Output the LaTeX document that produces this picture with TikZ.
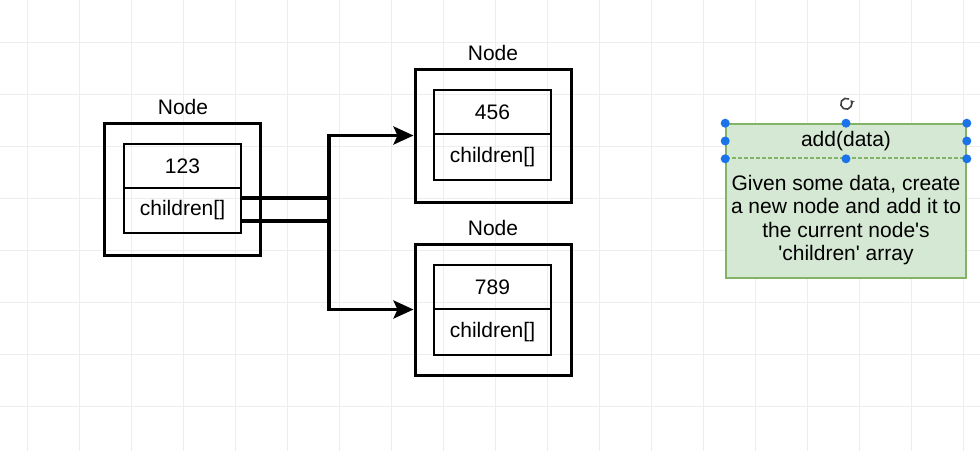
\documentclass[tikz,border=0pt]{standalone}
\usepackage{fontspec}
\setmainfont{Liberation Sans}
\usetikzlibrary{arrows.meta}
\definecolor{gridc}{HTML}{EDEDED}
\definecolor{greenfill}{HTML}{D5E8D4}
\definecolor{greenline}{HTML}{82B366}
\definecolor{handle}{HTML}{1A73E8}
\tikzset{
  outerbox/.style={draw=black, line width=3pt, minimum width=156pt, minimum height=132pt, inner sep=0pt},
  cellbox/.style={draw=black, line width=2.4pt, minimum width=117pt, minimum height=44.5pt, inner sep=0pt, font=\fontsize{21}{25}\selectfont},
  nodelabel/.style={font=\fontsize{21}{25}\selectfont},
  link/.style={line width=3.6pt, -{Stealth[length=20pt,width=18pt,inset=4pt]}},
  greenbox/.style={draw=greenline, line width=2.4pt, fill=greenfill, inner sep=0pt},
  hdot/.style={circle, fill=handle, inner sep=0pt, minimum size=9pt}
}
\begin{document}
\begin{tikzpicture}[x=1pt,y=-1pt]
\useasboundingbox (0,0) rectangle (980,451);
\fill[white] (0,0) rectangle (980,451);
% grid
\foreach \gx in {27,79,...,980} \draw[gridc, line width=0.8pt] (\gx,0) -- (\gx,451);
\foreach \gy in {42,94,...,451} \draw[gridc, line width=0.8pt] (0,\gy) -- (980,\gy);

% Node 1
\node[outerbox] (o1) at (182.5,189) {};
\node[nodelabel] (l1) at (183,107) {Node};
\node[cellbox, minimum height=44pt] (t1) at (182.5,166) {123};
\node[cellbox, minimum height=45pt] (b1) at (182.5,210.5) {children[]};

% Node 2
\node[outerbox, minimum height=133pt] (o2) at (493,135.5) {};
\node[nodelabel] (l2) at (493,53) {Node};
\node[cellbox, minimum height=44pt] (t2) at (492.5,112) {456};
\node[cellbox, minimum height=46pt] (b2) at (492.5,157) {children[]};

% Node 3
\node[outerbox, minimum height=131pt] (o3) at (493,309.5) {};
\node[nodelabel] (l3) at (493,228) {Node};
\node[cellbox, minimum height=44pt] (t3) at (492.5,287) {789};
\node[cellbox, minimum height=46pt] (b3) at (492.5,332) {children[]};

% connectors
\draw[link] ([yshift=-10.5pt]b1.east) -- ++(87,0) |- (o2.west);
\draw[link] ([yshift=12.5pt]b1.east) -- ++(87,0) |- (o3.west);

% green method box
\node[greenbox, minimum width=240pt, minimum height=154pt] (g) at (846,201) {};
\node[draw=greenline, line width=1.6pt, dash pattern=on 4pt off 2pt, minimum width=240pt, minimum height=34pt, inner sep=0pt, font=\fontsize{21}{25}\selectfont] (gh) at (846,141) {add(data)};
\node[align=center, font=\fontsize{21}{23.5}\selectfont] (gb) at (846,220) {Given some data, create\\a new node and add it to\\the current node\textquotesingle s\\\textquotesingle children\textquotesingle{} array};

% selection handles
\foreach \p in {gh.north west, gh.north, gh.north east, gh.west, gh.east, gh.south west, gh.south, gh.south east}
  \node[hdot] at (\p) {};
% rotate icon
\draw[line width=1.6pt, black!75, -{Stealth[length=4pt,width=5pt]}] (849,99) arc[start angle=60, end angle=400, radius=5.5pt];
\end{tikzpicture}
\end{document}
